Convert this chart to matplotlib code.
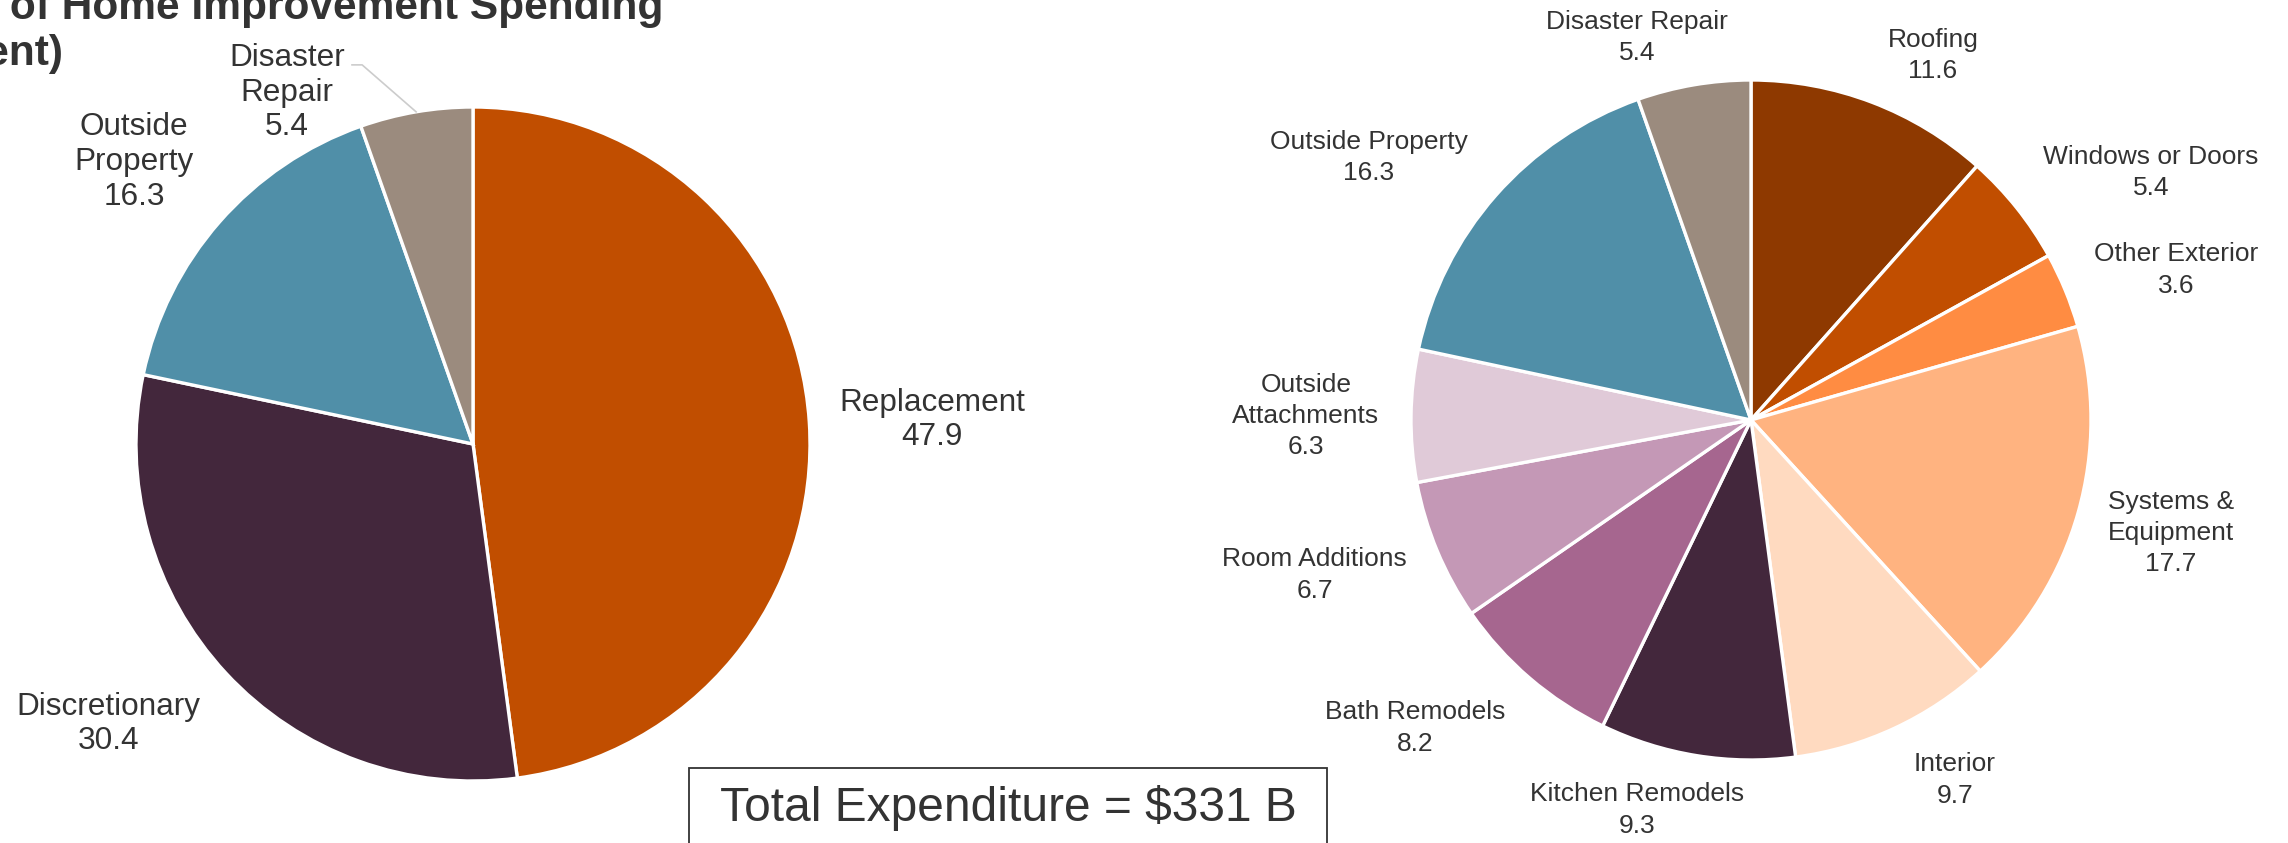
import matplotlib
matplotlib.use("Agg")
import matplotlib.pyplot as plt
from matplotlib.lines import Line2D
from matplotlib.patches import Rectangle
import numpy as np

plt.rcParams['font.family'] = ['Liberation Sans', 'DejaVu Sans']

# ---------------- data ----------------
left_labels = ["Replacement", "Discretionary", "Outside\nProperty", "Disaster\nRepair"]
left_values = [47.9, 30.4, 16.3, 5.4]
left_colors = ["#C14E00", "#43273C", "#508FA8", "#9B8B7E"]

right_labels = ["Roofing", "Windows or Doors", "Other Exterior", "Systems &\nEquipment",
                "Interior", "Kitchen Remodels", "Bath Remodels", "Room Additions",
                "Outside\nAttachments", "Outside Property", "Disaster Repair"]
right_values = [11.6, 5.4, 3.6, 17.7, 9.7, 9.3, 8.2, 6.7, 6.3, 16.3, 5.4]
right_colors = ["#8E3900", "#C14E00", "#FF8C42", "#FFB380", "#FFDAC0",
                "#43273C", "#A6668F", "#C498B6", "#E0CAD8", "#508FA8", "#9B8B7E"]

title = "Share of Home Improvement Spending\n(Percent)"
total_text = "Total Expenditure = $331 B"

# ---------------- layout ----------------
W, H = 2288, 843
TXT = "#333333"

# label positions in pie-radius units (layout only)
left_label_pos = [(1.362, 0.071), (-1.083, -0.831), (-1.006, 0.837), (-0.552, 1.042)]
right_label_pos = [(0.535, 1.071), (1.176, 0.729), (1.25, 0.441), (1.235, -0.332),
                   (0.6, -1.059), (-0.335, -1.147), (-0.988, -0.906), (-1.283, -0.456),
                   (-1.309, 0.012), (-1.124, 0.771), (-0.335, 1.124)]

fig = plt.figure(figsize=(W / 100, H / 100), dpi=100)


def draw_pie(cx, cy, R, values, colors, labels, pos, fs, ls):
    ax = fig.add_axes([0, 0, 1, 1])
    wedges, _ = ax.pie(values, colors=colors, startangle=90, counterclock=False,
                       wedgeprops=dict(edgecolor="white", linewidth=2.4))
    ax.set_xlim(-cx / R, (W - cx) / R)
    ax.set_ylim(-(H - cy) / R, cy / R)
    ax.set_aspect('auto')
    ax.set_axis_off()
    for lab, v, (x, y) in zip(labels, values, pos):
        ax.text(x, y, f"{lab}\n{v:.1f}", ha="center", va="center",
                fontsize=fs, color=TXT, linespacing=ls)
    return ax, wedges


axL, wL = draw_pie(473, 444, 337, left_values, left_colors, left_labels,
                   left_label_pos, 22.7, 1.2)
axR, wR = draw_pie(1751, 420, 340, right_values, right_colors, right_labels,
                   right_label_pos, 19.0, 1.38)

# leader line for the small left-pie slice
w = wL[3]
mid = np.deg2rad((w.theta1 + w.theta2) / 2)
ex, ey = np.cos(mid), np.sin(mid)
axL.add_line(Line2D([-0.359, -0.329, ex], [1.125, 1.125, ey],
                    color="#CCCCCC", linewidth=1.2))

# title (partially off-canvas as in the reference)
fig.text(-120 / W, 1 - 65 / H, title, ha="left", va="baseline",
         fontsize=30.6, fontweight="bold", color=TXT, linespacing=1.2)

# total box
fig.patches.append(Rectangle((689 / W, -0.05), (1327 - 689) / W, 0.05 + 1 - 768 / H,
                             transform=fig.transFigure, facecolor="white",
                             edgecolor=TXT, linewidth=1.3, zorder=5))
fig.text(1008 / W, 1 - 821 / H, total_text, ha="center", va="baseline",
         fontsize=34.5, color=TXT, zorder=6)

fig.savefig("out.png", dpi=100)
